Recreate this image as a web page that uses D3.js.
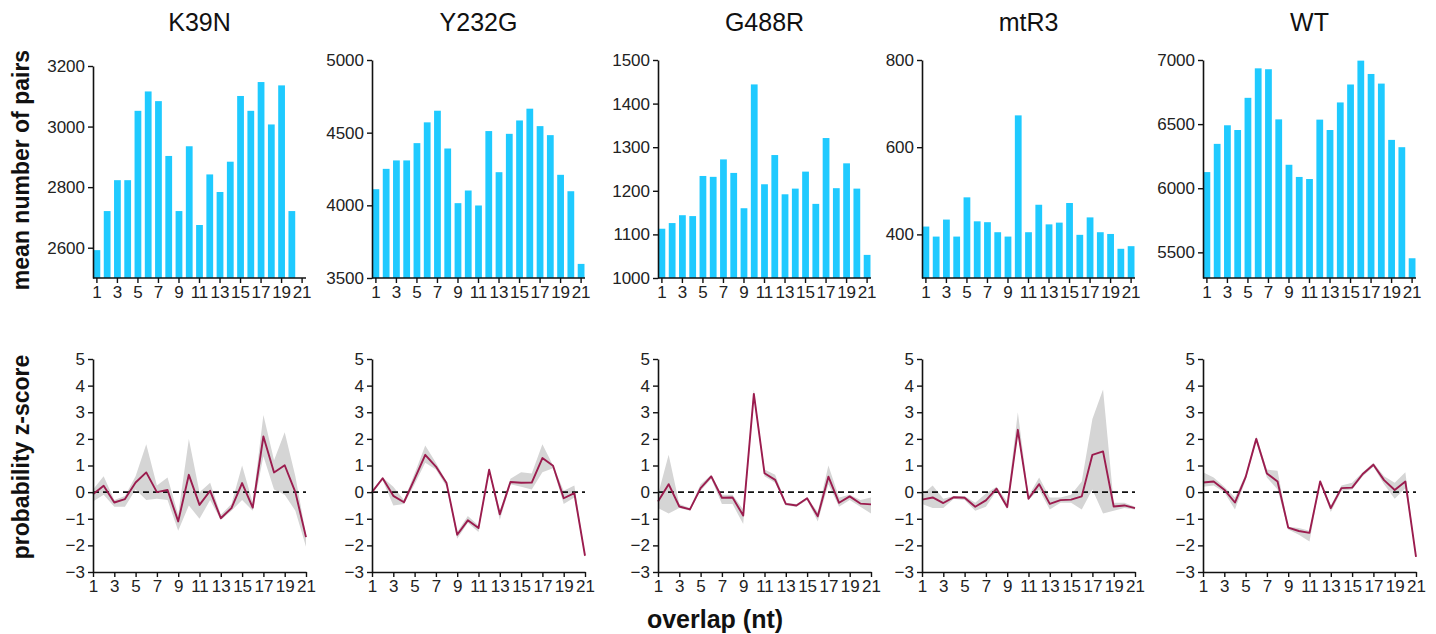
<!DOCTYPE html>
<html>
<head>
<meta charset="utf-8">
<script src="https://cdn.jsdelivr.net/npm/d3@7"></script>
<style>
  html, body { margin: 0; padding: 0; background: #fff; }
  svg { display: block; font-family: "Liberation Sans", Arial, sans-serif; }
</style>
</head>
<body>
<svg id="chart" width="1436" height="634"></svg>
<script>
// ---------------- DATA ----------------
const overlap = [1,2,3,4,5,6,7,8,9,10,11,12,13,14,15,16,17,18,19,20,21];
const xTickLabels = [1,3,5,7,9,11,13,15,17,19,21];
const samples = ["K39N", "Y232G", "G488R", "mtR3", "WT"];

// mean number of pairs (bars)
const pairsK39N  = [2592,2721,2823,2823,3052,3116,3084,2903,2721,2935,2675,2842,2784,2884,3101,3052,3147,3007,3136,2721,null];
const pairsY232G = [4111,4251,4309,4309,4428,4571,4651,4391,4015,4102,3999,4511,4228,4492,4584,4665,4545,4483,4210,4097,3597];
const pairsG488R = [1113,1126,1144,1142,1234,1232,1272,1241,1160,1444,1215,1282,1192,1205,1244,1170,1321,1206,1263,1205,1053];
const pairsMtR3  = [418,395,434,395,485,430,428,405,395,673,405,468,423,427,472,399,439,405,401,367,373];
const pairsWT    = [6126,6346,6491,6454,6705,6935,6928,6537,6183,6088,6072,6535,6454,6669,6809,6995,6891,6816,6377,6320,5454];

// y-axis ticks for the bar panels
const ticksK39N  = [2600,2800,3000,3200];
const ticksY232G = [3500,4000,4500,5000];
const ticksG488R = [1000,1100,1200,1300,1400,1500];
const ticksMtR3  = [400,600,800];
const ticksWT    = [5500,6000,6500,7000];
const domainK39N  = [2500,3200];
const domainY232G = [3500,5000];
const domainG488R = [1000,1500];
const domainMtR3  = [300,800];
const domainWT    = [5300,7000];

// probability z-score (line) with its grey band (low / high)
const zK39N   = [-0.08,0.24,-0.39,-0.26,0.36,0.74,0.0,0.08,-1.1,0.65,-0.48,0.05,-0.98,-0.6,0.34,-0.58,2.09,0.74,1.01,0.0,-1.69];
const zLoK39N = [-0.35,-0.1,-0.55,-0.55,0.1,-0.3,-0.25,-0.3,-1.45,-0.5,-1.0,-0.3,-1.05,-0.7,-0.3,-0.7,1.35,0.1,-0.1,-0.7,-2.05];
const zHiK39N = [0.1,0.6,-0.3,-0.15,0.6,1.8,0.25,0.55,-0.85,2.0,0.0,0.35,-0.85,-0.45,1.0,-0.4,2.9,1.2,2.25,0.6,-1.6];

const zY232G   = [0.0,0.52,-0.14,-0.38,0.5,1.4,0.96,0.34,-1.6,-1.06,-1.35,0.84,-0.83,0.38,0.35,0.36,1.28,0.99,-0.23,-0.04,-2.39];
const zLoY232G = [-0.05,0.45,-0.5,-0.45,0.3,1.1,0.85,0.2,-1.75,-1.15,-1.5,0.8,-1.05,0.3,0.2,0.1,0.75,0.9,-0.45,-0.2,-2.45];
const zHiY232G = [0.05,0.55,0.2,-0.3,0.7,1.75,1.1,0.4,-1.5,-0.9,-1.25,0.9,-0.7,0.5,0.75,0.7,1.8,1.0,0.05,0.25,-2.35];

const zG488R   = [-0.35,0.3,-0.54,-0.65,0.15,0.59,-0.21,-0.2,-0.88,3.69,0.71,0.46,-0.44,-0.5,-0.23,-0.91,0.58,-0.4,-0.16,-0.43,-0.46];
const zLoG488R = [-0.6,-0.8,-0.6,-0.7,0.05,0.5,-0.45,-0.45,-1.2,3.55,0.6,0.35,-0.5,-0.55,-0.3,-1.1,0.3,-0.55,-0.3,-0.55,-0.8];
const zHiG488R = [-0.1,1.4,-0.45,-0.6,0.3,0.65,-0.1,-0.1,-0.65,3.85,0.85,0.65,-0.4,-0.45,-0.2,-0.75,1.0,-0.2,-0.1,-0.3,-0.2];

const zMtR3   = [-0.28,-0.2,-0.41,-0.19,-0.21,-0.55,-0.31,0.13,-0.56,2.34,-0.25,0.3,-0.44,-0.3,-0.28,-0.16,1.4,1.53,-0.54,-0.5,-0.6];
const zLoMtR3 = [-0.45,-0.6,-0.6,-0.25,-0.3,-0.7,-0.55,0.05,-0.65,2.2,-0.3,0.1,-0.65,-0.4,-0.4,-0.65,0.1,-0.8,-0.7,-0.6,-0.65];
const zHiMtR3 = [-0.1,0.25,-0.25,-0.15,-0.15,-0.4,-0.05,0.2,-0.35,3.0,-0.15,0.55,-0.2,-0.2,-0.1,0.4,2.75,3.85,-0.4,-0.4,-0.55];

const zWT   = [0.36,0.4,0.09,-0.39,0.56,2.0,0.7,0.4,-1.33,-1.46,-1.53,0.4,-0.6,0.15,0.17,0.68,1.03,0.45,0.08,0.4,-2.43];
const zLoWT = [0.2,0.25,0.0,-0.65,0.45,1.9,0.55,0.1,-1.4,-1.6,-1.85,0.35,-0.75,0.05,0.1,0.6,0.95,0.3,-0.25,0.15,-2.45];
const zHiWT = [0.75,0.55,0.2,-0.2,0.65,2.1,0.85,0.8,-1.3,-1.35,-1.45,0.45,-0.5,0.25,0.35,0.75,1.1,0.6,0.35,0.75,-2.4];

const zTicks = [-3,-2,-1,0,1,2,3,4,5];
const zDomain = [-3,5];

// ---------------- LAYOUT ----------------
const panelX   = [93, 372, 658, 922, 1203];
const panelW   = 213;
const barTop   = [66, 60, 60, 60, 60];
const barBottom = 278;
const lineTop  = 359;
const lineBottom = 572;

const barColor  = "#1fcaff";
const lineColor = "#9b1c4e";
const bandColor = "#d5d5d5";

const pairsSets  = [pairsK39N, pairsY232G, pairsG488R, pairsMtR3, pairsWT];
const tickSets   = [ticksK39N, ticksY232G, ticksG488R, ticksMtR3, ticksWT];
const domainSets = [domainK39N, domainY232G, domainG488R, domainMtR3, domainWT];
const zSets   = [zK39N, zY232G, zG488R, zMtR3, zWT];
const zLoSets = [zLoK39N, zLoY232G, zLoG488R, zLoMtR3, zLoWT];
const zHiSets = [zHiK39N, zHiY232G, zHiG488R, zHiMtR3, zHiWT];

const svg = d3.select("#chart");

function styleAxis(g) {
  g.selectAll("path.domain").attr("stroke", "#111").attr("stroke-width", 1.6);
  g.selectAll(".tick line").attr("stroke", "#111").attr("stroke-width", 1.4);
  g.selectAll(".tick text").attr("fill", "#222").style("font-size", "17px")
    .style("font-family", '"Liberation Sans", Arial, sans-serif');
}

samples.forEach((name, i) => {
  const x0 = panelX[i];

  // ---------- title ----------
  svg.append("text")
    .attr("x", x0 + panelW / 2).attr("y", 31)
    .attr("text-anchor", "middle")
    .style("font-size", "25px").attr("fill", "#111")
    .text(name);

  // ---------- bar panel ----------
  const xb = d3.scaleBand().domain(overlap).range([x0, x0 + panelW]).paddingInner(0.34).paddingOuter(0.05);
  const yb = d3.scaleLinear().domain(domainSets[i]).range([barBottom, barTop[i]]);
  const barData = overlap.map((o, k) => ({ o, v: pairsSets[i][k] })).filter(d => d.v != null);

  svg.append("g").selectAll("rect").data(barData).join("rect")
    .attr("x", d => xb(d.o))
    .attr("width", xb.bandwidth())
    .attr("y", d => yb(Math.max(d.v, domainSets[i][0])))
    .attr("height", d => barBottom - yb(Math.max(d.v, domainSets[i][0])))
    .attr("fill", barColor);

  const gyb = svg.append("g").attr("transform", `translate(${x0},0)`)
    .call(d3.axisLeft(yb).tickValues(tickSets[i]).tickSize(5).tickPadding(3).tickSizeOuter(0).tickFormat(d3.format("d")));
  styleAxis(gyb);

  const gxb = svg.append("g").attr("transform", `translate(0,${barBottom})`)
    .call(d3.axisBottom(xb).tickValues(xTickLabels).tickSize(5).tickPadding(3).tickSizeOuter(0));
  gxb.select("path.domain").attr("d", `M${x0},0H${x0 + panelW}`);
  styleAxis(gxb);

  // ---------- z-score panel ----------
  const xl = d3.scaleLinear().domain([1, 21]).range([x0, x0 + panelW]);
  const yl = d3.scaleLinear().domain(zDomain).range([lineBottom, lineTop]);

  const band = overlap.map((o, k) => ({ o, lo: zLoSets[i][k], hi: zHiSets[i][k], z: zSets[i][k] }));

  svg.append("path").datum(band)
    .attr("fill", bandColor)
    .attr("d", d3.area().x(d => xl(d.o)).y0(d => yl(d.lo)).y1(d => yl(d.hi)));

  svg.append("line")
    .attr("x1", xl(1)).attr("x2", xl(21))
    .attr("y1", yl(0)).attr("y2", yl(0))
    .attr("stroke", "#111").attr("stroke-width", 1.6)
    .attr("stroke-dasharray", "6,4");

  svg.append("path").datum(band)
    .attr("fill", "none").attr("stroke", lineColor).attr("stroke-width", 1.9)
    .attr("stroke-linejoin", "round")
    .attr("d", d3.line().x(d => xl(d.o)).y(d => yl(d.z)));

  const gyl = svg.append("g").attr("transform", `translate(${x0},0)`)
    .call(d3.axisLeft(yl).tickValues(zTicks).tickSize(5).tickPadding(3).tickSizeOuter(0));
  styleAxis(gyl);

  const gxl = svg.append("g").attr("transform", `translate(0,${lineBottom})`)
    .call(d3.axisBottom(xl).tickValues(xTickLabels).tickSize(5).tickPadding(3).tickSizeOuter(0));
  styleAxis(gxl);
});

// ---------- axis titles ----------
svg.append("text")
  .attr("transform", "translate(29,170) rotate(-90)")
  .attr("text-anchor", "middle")
  .style("font-size", "23px").style("font-weight", "bold").attr("fill", "#111")
  .text("mean number of pairs");

svg.append("text")
  .attr("transform", "translate(29,457) rotate(-90)")
  .attr("text-anchor", "middle")
  .style("font-size", "23px").style("font-weight", "bold").attr("fill", "#111")
  .text("probability z-score");

svg.append("text")
  .attr("x", 715).attr("y", 628)
  .attr("text-anchor", "middle")
  .style("font-size", "25px").style("font-weight", "bold").attr("fill", "#111")
  .text("overlap (nt)");
</script>
</body>
</html>
